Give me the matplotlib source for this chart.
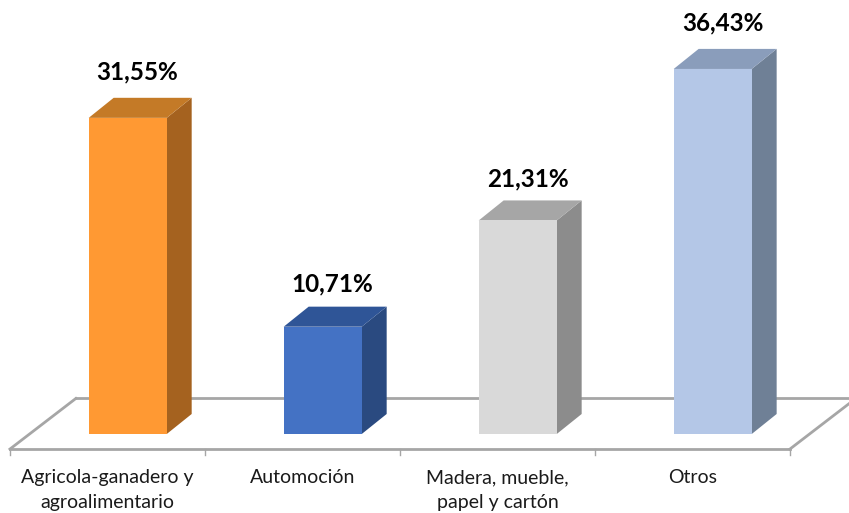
import matplotlib
matplotlib.use("Agg")
import matplotlib.pyplot as plt

plt.rcParams["font.family"] = ["Lato", "DejaVu Sans"]

categories = ["Agricola-ganadero y\nagroalimentario", "Automoción",
              "Madera, mueble,\npapel y cartón", "Otros"]
values = [31.55, 10.71, 21.31, 36.43]
value_labels = ["31,55%", "10,71%", "21,31%", "36,43%"]

front_colors = ["#FF9933", "#4472C4", "#D9D9D9", "#B4C7E7"]
side_colors = ["#A5621F", "#2A4A80", "#8C8C8C", "#6F8096"]
top_colors = ["#C47A27", "#2F5597", "#A6A6A6", "#8A9DBB"]
label_gaps = [2.6, 2.3, 2.1, 2.6]

FLOOR = "#A6A6A6"
BAR_W = 0.4
BAR_SHIFT = 0.104   # bars sit towards the back of the floor
DX, DY = 0.128, 2.0  # 3d depth of a bar

fig = plt.figure(figsize=(8.49, 5.13), dpi=100)
ax = fig.add_axes([0, 0, 1, 1])
ax.set_xlim(-0.551, 3.803)
ax.set_ylim(-7.88, 43.31)
ax.axis("off")

# floor of the 3d chart
ax.plot([-0.5 + 0.338, 3.5 + 0.338], [3.55, 3.55], color=FLOOR, lw=2, zorder=1)
ax.plot([-0.5, 3.5], [-1.5, -1.5], color=FLOOR, lw=2, zorder=1)
ax.plot([-0.5, -0.5 + 0.338], [-1.5, 3.55], color=FLOOR, lw=2, zorder=1)
ax.plot([3.5, 3.5 + 0.338], [-1.5, 3.55], color=FLOOR, lw=2, zorder=1)
for tick in range(len(categories) + 1):
    ax.plot([tick - 0.5, tick - 0.5], [-1.5, -2.1], color=FLOOR, lw=1, zorder=1)

for i, v in enumerate(values):
    left = i + BAR_SHIFT - BAR_W / 2
    right = left + BAR_W
    ax.bar(left, v, BAR_W, align="edge", color=front_colors[i], zorder=3, linewidth=0)
    ax.fill([right, right + DX, right + DX, right],
            [0, DY, v + DY, v], color=side_colors[i], lw=0, zorder=2)
    ax.fill([left, left + DX, right + DX, right],
            [v, v + DY, v + DY, v], color=top_colors[i], lw=0, zorder=2)
    ax.text(i + BAR_SHIFT + 0.05, v + DY + label_gaps[i], value_labels[i], ha="center", va="center",
            fontsize=17.5, fontweight="bold", color="black")
    ax.text(i, -3.5, categories[i], ha="center", va="top", fontsize=14,
            color="#1A1A1A", linespacing=1.55)

fig.savefig("out.png", dpi=100)
